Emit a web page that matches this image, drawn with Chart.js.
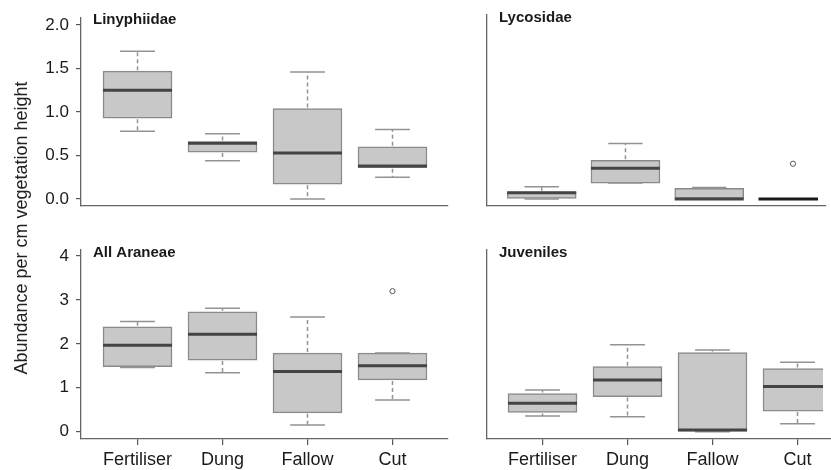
<!DOCTYPE html>
<html>
<head>
<meta charset="utf-8">
<script src="https://cdn.jsdelivr.net/npm/chart.js@4.4.1/dist/chart.umd.min.js"></script>
<style>
  body { margin: 0; background: #fff; }
  #wrap { position: relative; width: 831px; height: 470px; }
  canvas { position: absolute; left: 0; top: 0; }
</style>
</head>
<body>
<div id="wrap">
  <canvas id="tl" width="831" height="470"></canvas>
  <canvas id="tr" width="831" height="470"></canvas>
  <canvas id="bl" width="831" height="470"></canvas>
  <canvas id="br" width="831" height="470"></canvas>
</div>
<script>
const categories = ['Fertiliser', 'Dung', 'Fallow', 'Cut'];
const yTicksTop = [0, 0.5, 1, 1.5, 2];
const yLabelsTop = ['0.0', '0.5', '1.0', '1.5', '2.0'];
const yTicksBottom = [0, 1, 2, 3, 4];
const yLabelsBottom = ['0', '1', '2', '3', '4'];
const yTitle = 'Abundance per cm vegetation height';

// Linyphiidae
const linyMin = [0.78, 0.44, 0.00, 0.25];
const linyQ1  = [0.93, 0.54, 0.17, 0.36];
const linyMed = [1.25, 0.64, 0.53, 0.38];
const linyQ3  = [1.47, 0.66, 1.04, 0.60];
const linyMax = [1.70, 0.75, 1.46, 0.80];
const linyOut = [null, null, null, null];

// Lycosidae
const lycoMin = [0.00, 0.18, 0.00, 0.00];
const lycoQ1  = [0.00, 0.18, 0.00, 0.00];
const lycoMed = [0.07, 0.35, 0.00, 0.00];
const lycoQ3  = [0.08, 0.44, 0.12, 0.00];
const lycoMax = [0.14, 0.63, 0.13, 0.00];
const lycoOut = [null, null, null, 0.40];

// All Araneae
const araMin = [1.46, 1.34, 0.15, 0.72];
const araQ1  = [1.48, 1.63, 0.43, 1.18];
const araMed = [1.97, 2.22, 1.37, 1.50];
const araQ3  = [2.39, 2.73, 1.79, 1.79];
const araMax = [2.51, 2.81, 2.61, 1.79];
const araOut = [null, null, null, 3.20];

// Juveniles
const juvMin = [0.36, 0.34, 0.00, 0.18];
const juvQ1  = [0.44, 0.80, 0.00, 0.47];
const juvMed = [0.65, 1.18, 0.04, 1.03];
const juvQ3  = [0.87, 1.48, 1.80, 1.44];
const juvMax = [0.95, 1.98, 1.86, 1.58];
const juvOut = [null, null, null, null];

const FONT = '"Liberation Sans", Arial, Helvetica, sans-serif';

// whiskers, caps, medians and the panel title, drawn through the chart scales
const boxPlugin = {
  id: 'boxes',
  afterDatasetsDraw(chart) {
    const p = chart.options.plugins.boxes;
    const ctx = chart.ctx;
    const area = chart.chartArea;
    const xs = chart.scales.x, ys = chart.scales.y;
    ctx.save();
    ctx.beginPath();
    ctx.rect(area.left, area.top - 10, area.right + p.clipRight - area.left, area.bottom - area.top + 20);
    ctx.clip();
    categories.forEach((c, i) => {
      const cx = xs.getPixelForValue(i + 1);
      const capL = xs.getPixelForValue(i + 1 - 0.205);
      const capR = xs.getPixelForValue(i + 1 + 0.205);
      const yMin = ys.getPixelForValue(p.min[i]);
      const yQ1 = ys.getPixelForValue(p.q1[i]);
      const yQ3 = ys.getPixelForValue(p.q3[i]);
      const yMax = ys.getPixelForValue(p.max[i]);
      ctx.strokeStyle = '#939393';
      ctx.lineWidth = 1.5;
      ctx.setLineDash([4, 3]);
      ctx.beginPath();
      if (yMax < yQ3 - 1) { ctx.moveTo(cx, yQ3 - 1); ctx.lineTo(cx, yMax); }
      if (yMin > yQ1 + 1) { ctx.moveTo(cx, yQ1 + 1); ctx.lineTo(cx, yMin); }
      ctx.stroke();
      ctx.setLineDash([]);
      ctx.beginPath();
      ctx.moveTo(capL, yMax); ctx.lineTo(capR, yMax);
      ctx.moveTo(capL, yMin); ctx.lineTo(capR, yMin);
      ctx.stroke();
      // median
      const boxL = cx - 34.5, boxR = cx + 34.5;
      const yMed = ys.getPixelForValue(p.med[i]);
      ctx.strokeStyle = p.q1[i] === p.q3[i] ? '#1a1a1a' : '#444';
      ctx.lineWidth = 3;
      ctx.beginPath();
      ctx.moveTo(boxL, yMed); ctx.lineTo(boxR, yMed);
      ctx.stroke();
    });
    ctx.restore();

    ctx.save();
    ctx.fillStyle = '#1a1a1a';
    ctx.font = 'bold 15px ' + FONT;
    ctx.textBaseline = 'alphabetic';
    ctx.fillText(p.title, area.left + 12, area.top + 7);
    if (p.yTitle) {
      ctx.font = '18px ' + FONT;
      ctx.fillStyle = '#222';
      ctx.translate(22, 228);
      ctx.rotate(-Math.PI / 2);
      ctx.textAlign = 'center';
      ctx.textBaseline = 'middle';
      ctx.fillText(p.yTitle, 0, 0);
    }
    ctx.restore();
  }
};

function makePanel(id, p) {
  const boxData = categories.map((c, i) => ({ x: i + 1, y: [p.q1[i], p.q3[i]] }));
  const outData = p.out.map((v, i) => v == null ? null : { x: i + 1, y: v }).filter(Boolean);
  new Chart(document.getElementById(id), {
    type: 'bar',
    data: {
      datasets: [
        {
          type: 'bar',
          data: boxData,
          backgroundColor: '#c8c8c8',
          borderColor: '#8a8a8a',
          borderWidth: 1.5,
          borderSkipped: false,
          barThickness: 69,
          clip: { left: 0, top: 10, right: p.clipRight, bottom: 10 }
        },
        {
          type: 'scatter',
          data: outData,
          pointRadius: 2.6,
          pointBorderColor: '#555',
          pointBackgroundColor: 'rgba(255,255,255,0)',
          pointBorderWidth: 1
        }
      ]
    },
    options: {
      responsive: false,
      animation: false,
      events: [],
      layout: {
        padding: { left: p.left - p.yW, top: p.top, right: 831 - p.right, bottom: 470 - p.bottom - p.xH }
      },
      plugins: { legend: { display: false }, tooltip: { enabled: false }, boxes: p },
      scales: {
        x: {
          type: 'linear',
          offset: false,
          min: p.xMin,
          max: p.xMax,
          afterFit: s => { s.height = p.xH; },
          afterBuildTicks: s => { s.ticks = categories.map((c, i) => ({ value: i + 1 })); },
          ticks: {
            display: p.showX,
            autoSkip: false,
            maxRotation: 0,
            padding: 4,
            color: '#1a1a1a',
            font: { size: 18, family: FONT },
            callback: v => categories[v - 1]
          },
          grid: { offset: false, drawOnChartArea: false, drawTicks: p.showX, tickLength: 6, color: '#555', lineWidth: 1.2 },
          border: { display: true, color: '#666', width: 1.3 }
        },
        y: {
          min: p.yMin,
          max: p.yMax,
          afterFit: s => { s.width = p.yW; },
          afterBuildTicks: s => { s.ticks = p.yTicks.map(v => ({ value: v })); },
          ticks: {
            display: p.showY,
            padding: 7,
            color: '#1a1a1a',
            font: { size: 17, family: FONT },
            callback: (v, i) => p.yLabels[i]
          },
          grid: { drawOnChartArea: false, drawTicks: p.showY, tickLength: 5, color: '#555', lineWidth: 1.2 },
          border: { display: true, color: '#666', width: 1.3 }
        }
      }
    },
    plugins: [boxPlugin]
  });
}

makePanel('tl', {
  title: 'Linyphiidae', min: linyMin, q1: linyQ1, med: linyMed, q3: linyQ3, max: linyMax, out: linyOut,
  left: 81, top: 15, right: 448, bottom: 206, yW: 81, xH: 0,
  xMin: 0.335, xMax: 4.653, yMin: -0.08, yMax: 2.09,
  yTicks: yTicksTop, yLabels: yLabelsTop, showX: false, showY: true, clipRight: 10
});
makePanel('tr', {
  title: 'Lycosidae', min: lycoMin, q1: lycoQ1, med: lycoMed, q3: lycoQ3, max: lycoMax, out: lycoOut,
  left: 487, top: 15, right: 831, bottom: 206, yW: 0, xH: 0,
  xMin: 0.347, xMax: 4.394, yMin: -0.08, yMax: 2.09,
  yTicks: yTicksTop, yLabels: yLabelsTop, showX: false, showY: false, clipRight: -8
});
makePanel('bl', {
  title: 'All Araneae', min: araMin, q1: araQ1, med: araMed, q3: araQ3, max: araMax, out: araOut,
  left: 81, top: 250, right: 448, bottom: 439, yW: 81, xH: 31,
  xMin: 0.335, xMax: 4.653, yMin: -0.166, yMax: 4.137,
  yTicks: yTicksBottom, yLabels: yLabelsBottom, showX: true, showY: true, clipRight: 10,
  yTitle: yTitle
});
makePanel('br', {
  title: 'Juveniles', min: juvMin, q1: juvQ1, med: juvMed, q3: juvQ3, max: juvMax, out: juvOut,
  left: 487, top: 250, right: 831, bottom: 439, yW: 0, xH: 31,
  xMin: 0.347, xMax: 4.394, yMin: -0.166, yMax: 4.137,
  yTicks: yTicksBottom, yLabels: yLabelsBottom, showX: true, showY: false, clipRight: -8
});
</script>
</body>
</html>
